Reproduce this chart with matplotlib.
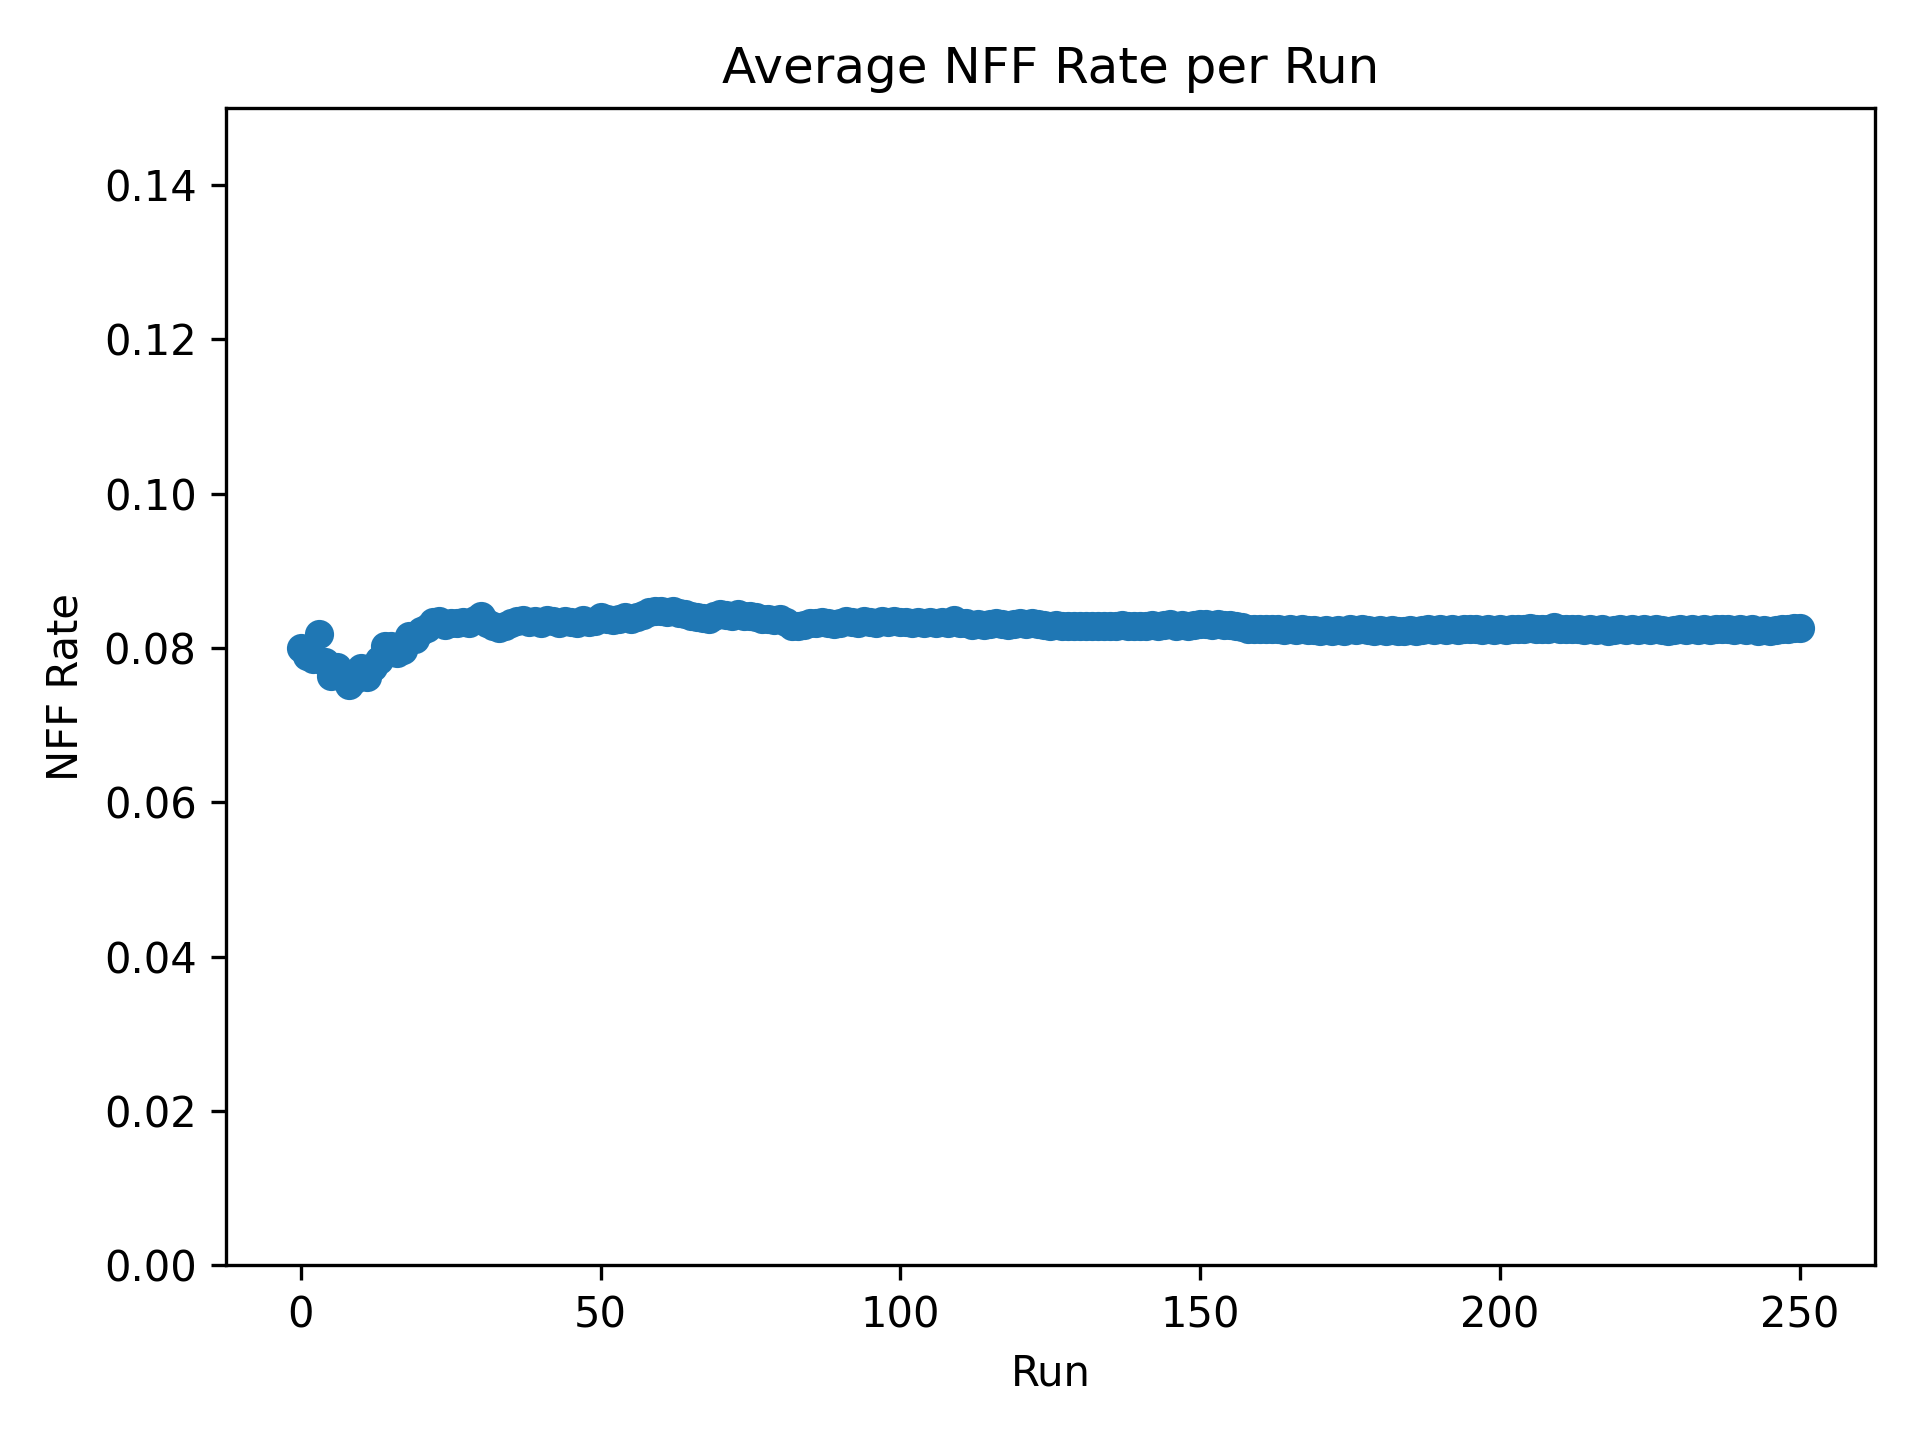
import numpy as np
import matplotlib
matplotlib.use("Agg")
import matplotlib.pyplot as plt

# running average of NFF rate
runs = np.arange(0, 251)

nff_rate = [
    0.0800, 0.0790, 0.0786, 0.0818, 0.0782, 0.0764, 0.0776, 0.0768, 0.0752, 0.0760,
    0.0774, 0.0762, 0.0776, 0.0784, 0.0802, 0.0803, 0.0794, 0.0798, 0.0816, 0.0812,
    0.0822, 0.0826, 0.0834, 0.0835, 0.0830, 0.0833, 0.0832, 0.0834, 0.0833, 0.0836,
    0.0841, 0.0832, 0.0828, 0.0826, 0.0829, 0.0832, 0.0835, 0.0836, 0.0834, 0.0835,
    0.0833, 0.0836, 0.0835, 0.0832, 0.0835, 0.0834, 0.0833, 0.0836, 0.0834, 0.0835,
    0.0840, 0.0838, 0.0836, 0.0838, 0.0840, 0.0838, 0.0840, 0.0843, 0.0847, 0.0848,
    0.0848, 0.0847, 0.0848, 0.0846, 0.0844, 0.0841, 0.0840, 0.0839, 0.0838, 0.0841,
    0.0844, 0.0843, 0.0842, 0.0844, 0.0842, 0.0841, 0.0840, 0.0838, 0.0837, 0.0836,
    0.0837, 0.0834, 0.0829, 0.0828, 0.0830, 0.0832, 0.0833, 0.0834, 0.0833, 0.0831,
    0.0833, 0.0835, 0.0834, 0.0833, 0.0835, 0.0834, 0.0833, 0.0835, 0.0834, 0.0835,
    0.0834, 0.0834, 0.0833, 0.0834, 0.0833, 0.0834, 0.0833, 0.0834, 0.0833, 0.0836,
    0.0833, 0.0832, 0.0830, 0.0831, 0.0830, 0.0831, 0.0832, 0.0831, 0.0830, 0.0831,
    0.0832, 0.0831, 0.0832, 0.0831, 0.0830, 0.0829, 0.0830, 0.0828, 0.0829, 0.0828,
    0.0829, 0.0828, 0.0829, 0.0828, 0.0829, 0.0828, 0.0829, 0.0830, 0.0829, 0.0828,
    0.0829, 0.0828, 0.0830, 0.0829, 0.0830, 0.0831, 0.0829, 0.0830, 0.0829, 0.0830,
    0.0831, 0.0831, 0.0830, 0.0831, 0.0830, 0.0830, 0.0829, 0.0827, 0.0825, 0.0824,
    0.0825, 0.0824, 0.0825, 0.0824, 0.0823, 0.0824, 0.0823, 0.0824, 0.0823, 0.0823,
    0.0822, 0.0823, 0.0822, 0.0823, 0.0822, 0.0824, 0.0823, 0.0825, 0.0823, 0.0822,
    0.0823, 0.0822, 0.0823, 0.0822, 0.0822, 0.0823, 0.0822, 0.0823, 0.0824, 0.0823,
    0.0824, 0.0823, 0.0824, 0.0823, 0.0824, 0.0825, 0.0824, 0.0823, 0.0824, 0.0823,
    0.0824, 0.0823, 0.0824, 0.0825, 0.0824, 0.0826, 0.0825, 0.0824, 0.0825, 0.0827,
    0.0825, 0.0824, 0.0825, 0.0824, 0.0823, 0.0824, 0.0823, 0.0824, 0.0822, 0.0823,
    0.0824, 0.0823, 0.0824, 0.0823, 0.0824, 0.0823, 0.0824, 0.0823, 0.0822, 0.0823,
    0.0824, 0.0823, 0.0824, 0.0823, 0.0824, 0.0823, 0.0824, 0.0825, 0.0824, 0.0823,
    0.0824, 0.0823, 0.0824, 0.0822, 0.0823, 0.0822, 0.0823, 0.0824, 0.0825, 0.0826,
    0.0826,
]

fig, ax = plt.subplots(figsize=(6.4, 4.8), dpi=300)
ax.plot(runs, nff_rate, marker='o')
ax.set_title("Average NFF Rate per Run")
ax.set_xlabel("Run")
ax.set_ylabel("NFF Rate")
ax.set_ylim(0, 0.15)
fig.tight_layout()
fig.savefig("out.png")
